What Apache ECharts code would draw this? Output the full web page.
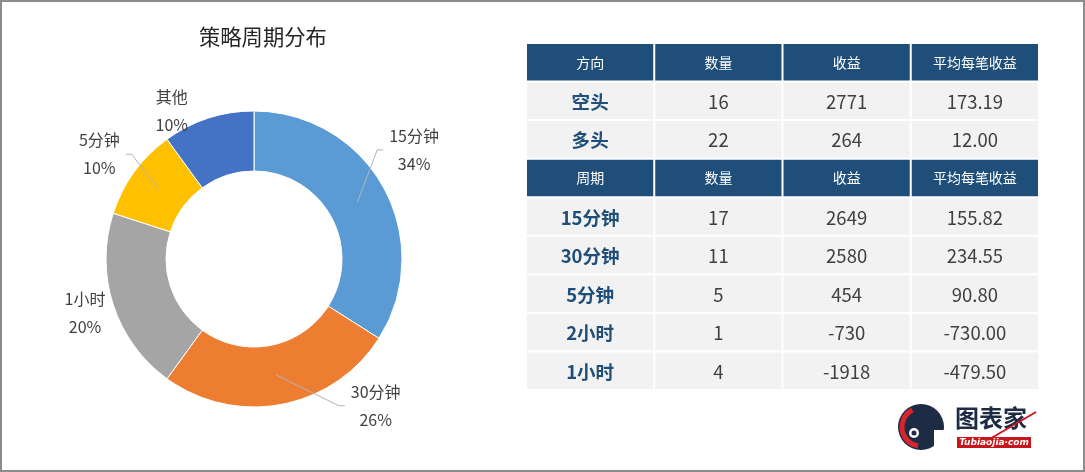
<!DOCTYPE html>
<html>
<head>
<meta charset="utf-8">
<script src="https://cdn.jsdelivr.net/npm/echarts@6/dist/echarts.min.js"></script>
<style>
html,body{margin:0;padding:0;background:#fff;}
#chart{width:1085px;height:472px;}
</style>
</head>
<body>
<div id="chart"></div>
<script>
// ---- data ----
const chartTitle = '策略周期分布';
const pieNames = ['15分钟', '30分钟', '1小时', '5分钟', '其他'];
const pieValues = [34, 26, 20, 10, 10];

const headerTop = ['方向', '数量', '收益', '平均每笔收益'];
const dirNames = ['空头', '多头'];
const dirCounts = [16, 22];
const dirProfits = [2771, 264];
const dirAvg = [173.19, 12.00];

const headerBottom = ['周期', '数量', '收益', '平均每笔收益'];
const periodNames = ['15分钟', '30分钟', '5分钟', '2小时', '1小时'];
const periodCounts = [17, 11, 5, 1, 4];
const periodProfits = [2649, 2580, 454, -730, -1918];
const periodAvg = [155.82, 234.55, 90.80, -730.00, -479.50];

// ---- build ----
const FONT = "'Microsoft YaHei','Noto Sans CJK SC','Noto Sans',sans-serif";
const pieColors = ['#5B9BD5', '#ED7D31', '#A5A5A5', '#FFC000', '#4472C4'];
const withLine = [true, true, false, true, false];
const labelShift = [[-2, -20], [87, -35], [7, -3], [-5, 4], [-25, 28]];

const pieData = pieNames.map((n, i) => ({
  name: n,
  value: pieValues[i],
  itemStyle: { color: pieColors[i] }
}));
// overlay pie (transparent slices) carrying labels + leader lines above the ring
const pieLabelData = pieNames.map((n, i) => ({
  name: n,
  value: pieValues[i],
  labelLine: { show: withLine[i] }
}));

const rows = [];
rows.push({ type: 'h', cells: headerTop });
dirNames.forEach((n, i) => rows.push({ type: 'd', cells: [n, String(dirCounts[i]), String(dirProfits[i]), dirAvg[i].toFixed(2)] }));
rows.push({ type: 'h', cells: headerBottom });
periodNames.forEach((n, i) => rows.push({ type: 'd', cells: [n, String(periodCounts[i]), String(periodProfits[i]), periodAvg[i].toFixed(2)] }));

const cellData = [];
rows.forEach((r, ri) => r.cells.forEach((c, ci) => cellData.push([ci, ri, c, r.type])));

const chart = echarts.init(document.getElementById('chart'));
chart.setOption({
  animation: false,
  textStyle: { fontFamily: FONT },
  title: {
    text: chartTitle,
    left: 199, top: 26, padding: 0,
    textStyle: { fontSize: 21.3, fontWeight: 'normal', color: '#262626', fontFamily: FONT }
  },
  grid: { left: 526, top: 43, width: 513, height: 347, containLabel: false },
  xAxis: { type: 'category', data: [0, 1, 2, 3], show: false },
  yAxis: { type: 'category', data: rows.map((r, i) => i), inverse: true, show: false },
  graphic: [
    { type: 'rect', shape: { x: 1, y: 1, width: 1083, height: 470 }, style: { fill: 'none', stroke: '#8c8c8c', lineWidth: 2 }, silent: true, z: 100 },
    { type: 'group', children: [
      { type: 'circle', shape: { cx: 921, cy: 427, r: 23 }, style: { fill: '#1d2b45' } },
      { type: 'rect', shape: { x: 934, y: 430, width: 14, height: 22 }, style: { fill: '#fff' } },
      { type: 'arc', shape: { cx: 921, cy: 427, r: 19, startAngle: Math.PI * 0.55, endAngle: Math.PI * 1.35 }, style: { stroke: '#d7262b', lineWidth: 5, fill: 'none' } },
      { type: 'circle', shape: { cx: 914, cy: 433, r: 5 }, style: { fill: '#fff' } },
      { type: 'circle', shape: { cx: 914, cy: 433, r: 2.5 }, style: { fill: '#1d2b45' } },
      { type: 'text', x: 955, y: 406, style: { text: '图表家', fontSize: 24, fontWeight: 'bold', fill: '#1d2b45', fontFamily: FONT } },
      { type: 'rect', shape: { x: 957, y: 437, width: 74, height: 11 }, style: { fill: '#c8161d' } },
      { type: 'text', x: 994, y: 442.5, style: { text: 'Tubiaojia·com', fontSize: 9, fontWeight: 'bold', fontStyle: 'italic', fill: '#fff', align: 'center', verticalAlign: 'middle', fontFamily: 'DejaVu Sans' } },
      { type: 'line', shape: { x1: 988, y1: 440, x2: 1036, y2: 412 }, style: { stroke: '#c8161d', lineWidth: 2 } }
    ]}
  ],
  series: [
    {
      type: 'pie',
      center: [254, 259],
      radius: [88, 148],
      startAngle: 90,
      clockwise: true,
      z: 2,
      itemStyle: { borderColor: '#fff', borderWidth: 1 },
      label: { show: false },
      labelLine: { show: false },
      emphasis: { disabled: true },
      data: pieData
    },
    {
      type: 'pie',
      center: [254, 259],
      radius: [88, 148],
      startAngle: 90,
      clockwise: true,
      z: 3,
      silent: true,
      avoidLabelOverlap: false,
      percentPrecision: 0,
      itemStyle: { color: 'rgba(0,0,0,0)', borderWidth: 0 },
      label: {
        show: true,
        position: 'outside',
        formatter: '{b}\n{d}%',
        fontSize: 16,
        lineHeight: 28,
        color: '#404040',
        fontFamily: FONT,
        distanceToLabelLine: 0
      },
      labelLine: { length: 37, length2: 0, lineStyle: { color: '#b4b4b4', width: 1 } },
      labelLayout: function (p) {
        const s = labelShift[p.dataIndex];
        const res = { align: 'center', dx: s[0], dy: s[1] };
        const pts = p.labelLinePoints;
        if (pts && pts.length >= 3) {
          const ux = pts[1][0] - pts[0][0], uy = pts[1][1] - pts[0][1];
          const L = Math.sqrt(ux * ux + uy * uy) || 1;
          const mid = [pts[0][0] - ux / L * 30, pts[0][1] - uy / L * 30];
          const cx = pts[2][0] + s[0], cy = pts[2][1] + s[1];
          const w = p.labelRect.width;
          let end, bend;
          if (cx > mid[0]) { end = cx - w / 2 - 6; bend = end - 6; }
          else { end = cx + w / 2 + 6; bend = end + 6; }
          res.labelLinePoints = [mid, [bend, cy], [end, cy]];
        }
        return res;
      },
      emphasis: { disabled: true },
      data: pieLabelData
    },
    {
      type: 'custom',
      coordinateSystem: 'cartesian2d',
      silent: true,
      encode: { x: 0, y: 1 },
      renderItem: function (params, api) {
        const c = api.coord([api.value(0), api.value(1)]);
        const sz = api.size([1, 1]);
        const txt = cellData[params.dataIndex][2];
        const type = cellData[params.dataIndex][3];
        const col = cellData[params.dataIndex][0];
        const isHead = type === 'h';
        let tStyle;
        if (isHead) {
          tStyle = { fill: '#fff', fontSize: 14, fontWeight: 'normal' };
        } else if (col === 0) {
          tStyle = { fill: '#1F4E79', fontSize: 18.5, fontWeight: 'bold' };
        } else {
          tStyle = { fill: '#404040', fontSize: 18.5, fontWeight: 'normal' };
        }
        return {
          type: 'group',
          children: [
            { type: 'rect', shape: { x: c[0] - sz[0] / 2 + 1, y: c[1] - sz[1] / 2 + 1, width: sz[0] - 2, height: sz[1] - 2 },
              style: { fill: isHead ? '#1F4E79' : '#F2F2F2' } },
            { type: 'text', x: c[0], y: c[1] + (isHead ? 0 : 1),
              style: Object.assign({ text: txt, align: 'center', verticalAlign: 'middle', fontFamily: FONT }, tStyle) }
          ]
        };
      },
      data: cellData
    }
  ]
});
</script>
</body>
</html>
